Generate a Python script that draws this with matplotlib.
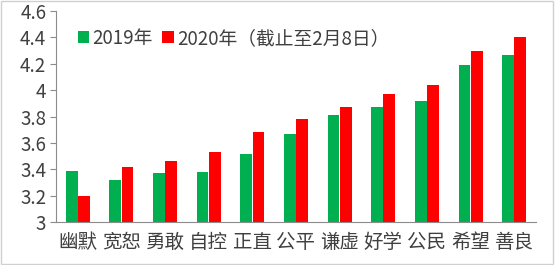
import matplotlib
matplotlib.use("Agg")
import matplotlib.pyplot as plt
from matplotlib.patches import Rectangle
import numpy as np

plt.rcParams['font.family'] = ['Noto Sans CJK SC', 'DejaVu Sans']

categories = ["幽默", "宽恕", "勇敢", "自控", "正直", "公平", "谦虚", "好学", "公民", "希望", "善良"]
values_2019 = [3.39, 3.32, 3.37, 3.38, 3.52, 3.665, 3.815, 3.87, 3.915, 4.19, 4.265]
values_2020 = [3.20, 3.42, 3.46, 3.53, 3.68, 3.785, 3.87, 3.97, 4.04, 4.30, 4.40]
series_labels = ["2019年", "2020年（截止至2月8日）"]
yticks = [3, 3.2, 3.4, 3.6, 3.8, 4, 4.2, 4.4, 4.6]
ytick_labels = ["3", "3.2", "3.4", "3.6", "3.8", "4", "4.2", "4.4", "4.6"]

green = "#00B050"
red = "#FF0000"
axis_color = "#8c8c8c"

fig = plt.figure(figsize=(5.56, 2.65), dpi=100)
ax = fig.add_axes([0.1007, 0.162, 0.8633, 0.796])

x = np.arange(len(categories))
w = 0.27
ax.bar(x - 0.14, values_2019, width=w, color=green, label=series_labels[0])
ax.bar(x + 0.14, values_2020, width=w, color=red, label=series_labels[1])

ax.set_xlim(-0.5, len(categories) - 0.5)
ax.set_ylim(3, 4.6)
ax.set_yticks(yticks)
ax.set_yticklabels(ytick_labels, fontsize=13.5, color="#404040")
ax.set_xticks(x)
ax.set_xticklabels(categories, fontsize=14, color="#404040")
ax.tick_params(axis='x', length=0, pad=7)
ax.tick_params(axis='y', length=4, color=axis_color, pad=3)

for s in ["top", "right"]:
    ax.spines[s].set_visible(False)
ax.spines["left"].set_color(axis_color)
ax.spines["bottom"].set_color(axis_color)

ax.legend(loc="upper left", bbox_to_anchor=(0.01, 1.0), ncol=2, frameon=False,
          fontsize=13.5, handlelength=0.6, handleheight=0.6, handletextpad=0.2,
          columnspacing=0.5, labelcolor="#404040")

fig.patches.append(Rectangle((0.001, 0.004), 0.993, 0.992, transform=fig.transFigure,
                             fill=False, edgecolor="#d0d0d0", linewidth=1))

fig.savefig("out.png", dpi=100)
